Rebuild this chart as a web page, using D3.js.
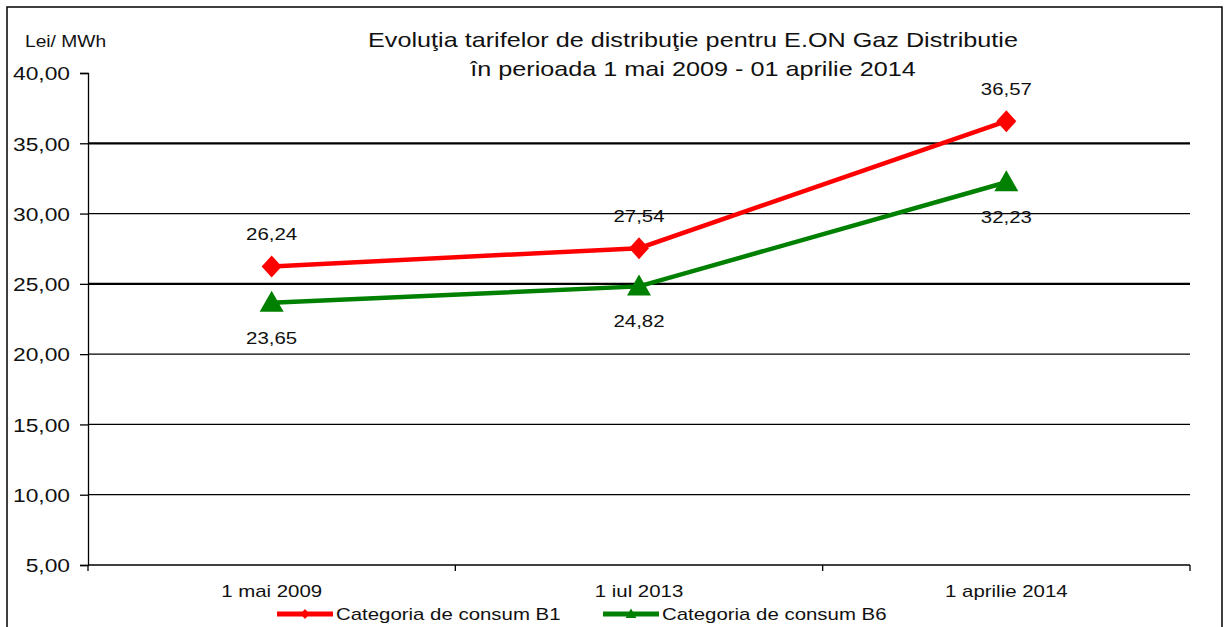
<!DOCTYPE html>
<html lang="ro">
<head>
    <meta charset="UTF-8">
    <title>Evoluţia tarifelor de distribuţie pentru E.ON Gaz Distributie</title>
    <style>
        body {
            margin: 0;
            background-color: #fff;
        }
        text {
            font-family: "Liberation Sans", Arial, sans-serif;
            fill: #111;
        }
        .grid-line {
            stroke: #000;
        }
        .axis-line {
            stroke: #000;
            stroke-width: 1.3;
        }
    </style>
</head>
<body>
    <svg id="chart" width="1230" height="627"></svg>

    <script src="https://d3js.org/d3.v7.min.js"></script>
    <script>
        // data
        var categories = ['1 mai 2009', '1 iul 2013', '1 aprilie 2014'];
        var seriesNames = ['Categoria de consum B1', 'Categoria de consum B6'];
        var valuesB1 = [26.24, 27.54, 36.57];
        var valuesB6 = [23.65, 24.82, 32.23];
        var yTicks = [5, 10, 15, 20, 25, 30, 35, 40];
        var titleLines = [
            'Evoluţia  tarifelor de distribuţie pentru E.ON Gaz Distributie',
            'în perioada 1 mai 2009 - 01 aprilie 2014'
        ];
        var unitLabel = 'Lei/ MWh';

        var plotLeft = 88, plotRight = 1190, plotTop = 73, plotBottom = 565;
        var stretch = 1.2; // the original picture is wider than its glyph heights suggest

        var svg = d3.select('#chart');

        // widen each text horizontally, keeping its anchor
        function widen(sel) {
            sel.each(function () {
                var len = this.getComputedTextLength();
                d3.select(this)
                    .attr('textLength', len * stretch)
                    .attr('lengthAdjust', 'spacingAndGlyphs');
            });
            return sel;
        }

        var fmt = function (v) { return d3.format('.2f')(v).replace('.', ','); };

        // outer frame
        svg.append('rect')
            .attr('x', 7).attr('y', 7)
            .attr('width', 1215).attr('height', 640)
            .attr('fill', 'none')
            .attr('stroke', '#000')
            .attr('stroke-width', 1.5);

        var xScale = d3.scaleBand()
            .domain(categories)
            .range([plotLeft, plotRight]);

        var yScale = d3.scaleLinear()
            .domain([5, 40])
            .range([plotBottom, plotTop]);

        // gridlines (none on the top value)
        var heavy = [25, 35];
        svg.selectAll('.grid-line')
            .data(yTicks.filter(d => d > 5 && d < 40))
            .enter()
            .append('line')
            .attr('class', 'grid-line')
            .attr('x1', plotLeft).attr('x2', plotRight)
            .attr('y1', d => yScale(d)).attr('y2', d => yScale(d))
            .attr('stroke-width', d => heavy.indexOf(d) >= 0 ? 2.2 : 1.2);

        // y axis
        var yAxis = d3.axisLeft(yScale)
            .tickValues(yTicks)
            .tickSize(8)
            .tickFormat(fmt);
        var gy = svg.append('g')
            .attr('transform', `translate(${plotLeft}, 0)`)
            .call(yAxis);
        gy.select('.domain').attr('stroke', '#000').attr('stroke-width', 1.3);
        gy.selectAll('.tick line').attr('stroke', '#000').attr('stroke-width', 1.3);
        gy.selectAll('.tick text')
            .attr('x', -18)
            .attr('dy', '0.36em')
            .style('font-size', '19px')
            .style('font-family', '"Liberation Sans", Arial, sans-serif')
            .attr('fill', '#111')
            .call(widen);

        // x axis line and boundary ticks
        svg.append('line')
            .attr('class', 'axis-line')
            .attr('x1', plotLeft).attr('x2', plotRight)
            .attr('y1', plotBottom).attr('y2', plotBottom);
        var bounds = categories.map(c => xScale(c)).concat([plotRight]);
        svg.selectAll('.x-tick')
            .data(bounds)
            .enter()
            .append('line')
            .attr('class', 'axis-line')
            .attr('x1', d => d).attr('x2', d => d)
            .attr('y1', plotBottom).attr('y2', plotBottom + 6);

        svg.selectAll('.x-label')
            .data(categories)
            .enter()
            .append('text')
            .attr('x', d => xScale(d) + xScale.bandwidth() / 2)
            .attr('y', 597)
            .attr('text-anchor', 'middle')
            .style('font-size', '17px')
            .text(d => d)
            .call(widen);

        // unit label and title
        svg.append('text')
            .attr('x', 25).attr('y', 47)
            .style('font-size', '16px')
            .text(unitLabel)
            .call(widen);

        svg.selectAll('.title')
            .data(titleLines)
            .enter()
            .append('text')
            .attr('x', 693)
            .attr('y', (d, i) => 47 + i * 29)
            .attr('text-anchor', 'middle')
            .style('font-size', '21px')
            .text(d => d)
            .call(widen);

        // series
        var series = [
            { name: seriesNames[0], values: valuesB1, color: '#ff0000', shape: 'diamond', labelDy: -26 },
            { name: seriesNames[1], values: valuesB6, color: '#008000', shape: 'triangle', labelDy: 41 }
        ];

        var line = d3.line()
            .x((d, i) => xScale(categories[i]) + xScale.bandwidth() / 2)
            .y(d => yScale(d));

        function markerPath(shape, s) {
            if (shape === 'diamond') {
                return `M0,${-11 * s}L${10 * s},0L0,${11 * s}L${-10 * s},0Z`;
            }
            return `M0,${-12 * s}L${12 * s},${9 * s}L${-12 * s},${9 * s}Z`;
        }

        series.forEach(function (s) {
            svg.append('path')
                .datum(s.values)
                .attr('d', line)
                .attr('fill', 'none')
                .attr('stroke', s.color)
                .attr('stroke-width', 4.5);

            svg.selectAll(null)
                .data(s.values)
                .enter()
                .append('path')
                .attr('transform', (d, i) => `translate(${xScale(categories[i]) + xScale.bandwidth() / 2}, ${yScale(d)})`)
                .attr('d', markerPath(s.shape, 1))
                .attr('fill', s.color);

            svg.selectAll(null)
                .data(s.values)
                .enter()
                .append('text')
                .attr('x', (d, i) => xScale(categories[i]) + xScale.bandwidth() / 2)
                .attr('y', d => yScale(d) + s.labelDy)
                .attr('text-anchor', 'middle')
                .style('font-size', '17px')
                .text(fmt)
                .call(widen);
        });

        // legend
        var legendX = [277, 603];
        var legend = svg.selectAll('.legend-item')
            .data(series)
            .enter()
            .append('g')
            .attr('transform', (d, i) => `translate(${legendX[i]}, 614)`);

        legend.append('line')
            .attr('x1', 0).attr('x2', 56)
            .attr('stroke', d => d.color)
            .attr('stroke-width', 5);

        legend.append('path')
            .attr('transform', 'translate(28, 0)')
            .attr('d', d => markerPath(d.shape, 0.45))
            .attr('fill', d => d.color);

        legend.append('text')
            .attr('x', 59)
            .attr('y', 6)
            .style('font-size', '17px')
            .text(d => d.name)
            .call(widen);
    </script>
</body>
</html>
